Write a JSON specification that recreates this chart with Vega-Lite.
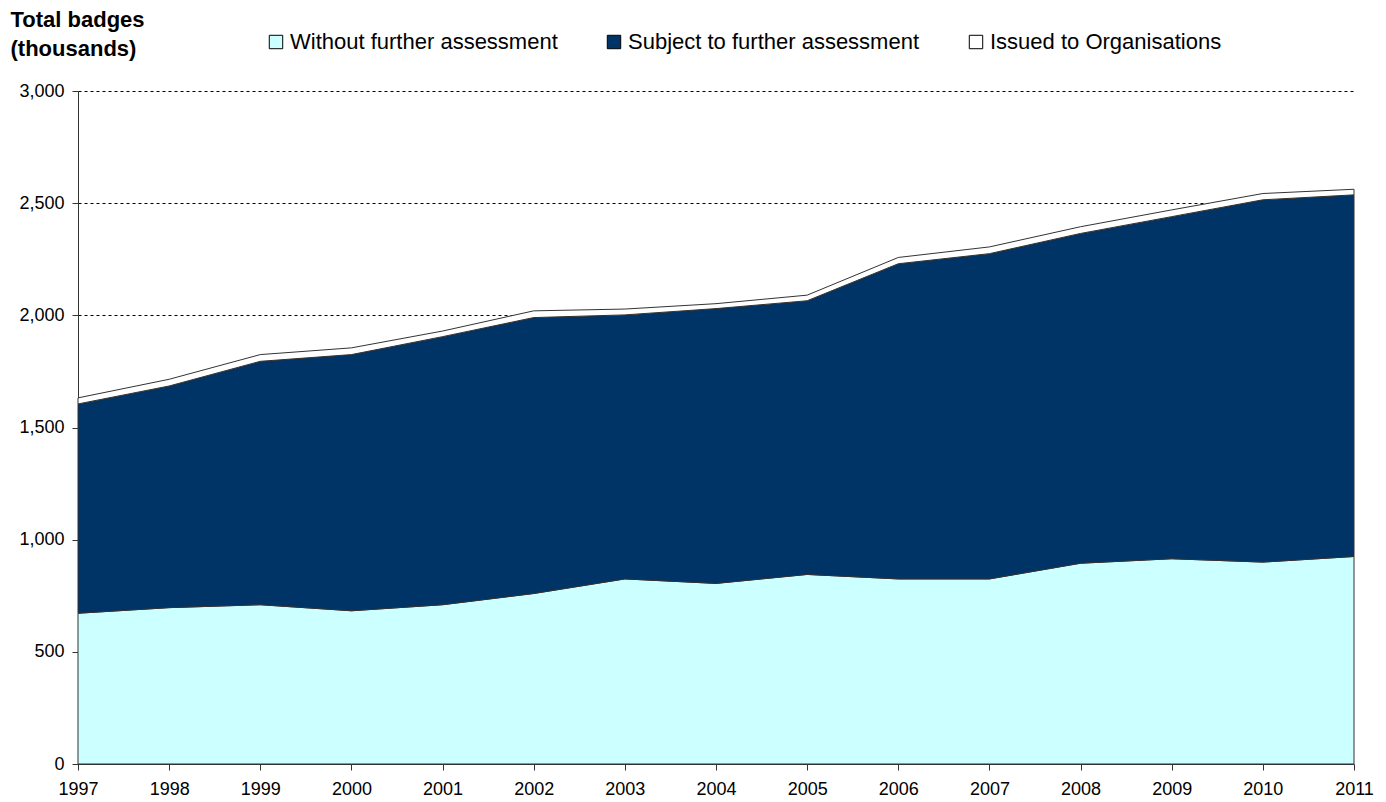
{
  "$schema": "https://vega.github.io/schema/vega-lite/v6.json",
  "width": 1276,
  "height": 673,
  "autosize": {"type": "none"},
  "padding": {"left": 78, "top": 91, "right": 32, "bottom": 38},
  "background": "white",
  "config": {
    "view": {"stroke": null},
    "font": "Liberation Sans",
    "axis": {"labelFont": "Liberation Sans", "labelColor": "black", "labelFontSize": 18, "domainColor": "#333333", "tickColor": "#333333"}
  },
  "data": {
    "values": [
      {"year": 1997, "series": "Without further assessment", "order": 1, "value": 672},
      {"year": 1998, "series": "Without further assessment", "order": 1, "value": 697},
      {"year": 1999, "series": "Without further assessment", "order": 1, "value": 710},
      {"year": 2000, "series": "Without further assessment", "order": 1, "value": 683},
      {"year": 2001, "series": "Without further assessment", "order": 1, "value": 710},
      {"year": 2002, "series": "Without further assessment", "order": 1, "value": 760},
      {"year": 2003, "series": "Without further assessment", "order": 1, "value": 825},
      {"year": 2004, "series": "Without further assessment", "order": 1, "value": 805},
      {"year": 2005, "series": "Without further assessment", "order": 1, "value": 845},
      {"year": 2006, "series": "Without further assessment", "order": 1, "value": 825},
      {"year": 2007, "series": "Without further assessment", "order": 1, "value": 825},
      {"year": 2008, "series": "Without further assessment", "order": 1, "value": 895},
      {"year": 2009, "series": "Without further assessment", "order": 1, "value": 915},
      {"year": 2010, "series": "Without further assessment", "order": 1, "value": 900},
      {"year": 2011, "series": "Without further assessment", "order": 1, "value": 925},
      {"year": 1997, "series": "Subject to further assessment", "order": 2, "value": 933},
      {"year": 1998, "series": "Subject to further assessment", "order": 2, "value": 988},
      {"year": 1999, "series": "Subject to further assessment", "order": 2, "value": 1085},
      {"year": 2000, "series": "Subject to further assessment", "order": 2, "value": 1142},
      {"year": 2001, "series": "Subject to further assessment", "order": 2, "value": 1195},
      {"year": 2002, "series": "Subject to further assessment", "order": 2, "value": 1230},
      {"year": 2003, "series": "Subject to further assessment", "order": 2, "value": 1177},
      {"year": 2004, "series": "Subject to further assessment", "order": 2, "value": 1225},
      {"year": 2005, "series": "Subject to further assessment", "order": 2, "value": 1220},
      {"year": 2006, "series": "Subject to further assessment", "order": 2, "value": 1405},
      {"year": 2007, "series": "Subject to further assessment", "order": 2, "value": 1450},
      {"year": 2008, "series": "Subject to further assessment", "order": 2, "value": 1470},
      {"year": 2009, "series": "Subject to further assessment", "order": 2, "value": 1525},
      {"year": 2010, "series": "Subject to further assessment", "order": 2, "value": 1615},
      {"year": 2011, "series": "Subject to further assessment", "order": 2, "value": 1612},
      {"year": 1997, "series": "Issued to Organisations", "order": 3, "value": 27},
      {"year": 1998, "series": "Issued to Organisations", "order": 3, "value": 30},
      {"year": 1999, "series": "Issued to Organisations", "order": 3, "value": 30},
      {"year": 2000, "series": "Issued to Organisations", "order": 3, "value": 30},
      {"year": 2001, "series": "Issued to Organisations", "order": 3, "value": 25},
      {"year": 2002, "series": "Issued to Organisations", "order": 3, "value": 30},
      {"year": 2003, "series": "Issued to Organisations", "order": 3, "value": 26},
      {"year": 2004, "series": "Issued to Organisations", "order": 3, "value": 22},
      {"year": 2005, "series": "Issued to Organisations", "order": 3, "value": 25},
      {"year": 2006, "series": "Issued to Organisations", "order": 3, "value": 28},
      {"year": 2007, "series": "Issued to Organisations", "order": 3, "value": 30},
      {"year": 2008, "series": "Issued to Organisations", "order": 3, "value": 30},
      {"year": 2009, "series": "Issued to Organisations", "order": 3, "value": 30},
      {"year": 2010, "series": "Issued to Organisations", "order": 3, "value": 28},
      {"year": 2011, "series": "Issued to Organisations", "order": 3, "value": 25}
    ]
  },
  "mark": {"type": "area", "stroke": "#333333", "strokeWidth": 1, "opacity": 1},
  "encoding": {
    "x": {
      "field": "year", "type": "quantitative",
      "scale": {"domain": [1997, 2011], "nice": false, "zero": false},
      "axis": {"values": [1997,1998,1999,2000,2001,2002,2003,2004,2005,2006,2007,2008,2009,2010,2011], "format": "d", "title": null, "grid": false, "tickSize": 6, "labelPadding": 10, "labelFlush": false, "labelOverlap": false}
    },
    "y": {
      "field": "value", "type": "quantitative", "stack": "zero",
      "scale": {"domain": [0, 3000], "nice": false},
      "axis": {
        "values": [0, 500, 1000, 1500, 2000, 2500, 3000], "format": ",d", "tickSize": 6, "labelPadding": 8,
        "grid": true, "gridColor": "black", "gridDash": [3, 3], "gridWidth": 1,
        "title": ["Total badges", "(thousands)"], "titleAngle": 0, "titleAlign": "left", "titleBaseline": "top",
        "titleX": -68, "titleY": -82, "titleFont": "Liberation Sans", "titleFontSize": 22, "titleFontWeight": "bold", "titleColor": "black", "titleLineHeight": 29
      }
    },
    "color": {
      "field": "series", "type": "nominal",
      "scale": {"domain": ["Without further assessment", "Subject to further assessment", "Issued to Organisations"], "range": ["#CCFFFF", "#003366", "#FFFFFF"]},
      "legend": {
        "title": null, "orient": "none", "direction": "horizontal", "legendX": 187, "legendY": -60,
        "symbolType": "square", "symbolSize": 180, "symbolStrokeColor": "black", "symbolStrokeWidth": 1, "symbolOpacity": 1,
        "labelFont": "Liberation Sans", "labelFontSize": 22, "labelColor": "black", "labelOffset": 3, "columnPadding": 45, "labelLimit": 0
      }
    },
    "order": {"field": "order", "type": "quantitative"}
  }
}
